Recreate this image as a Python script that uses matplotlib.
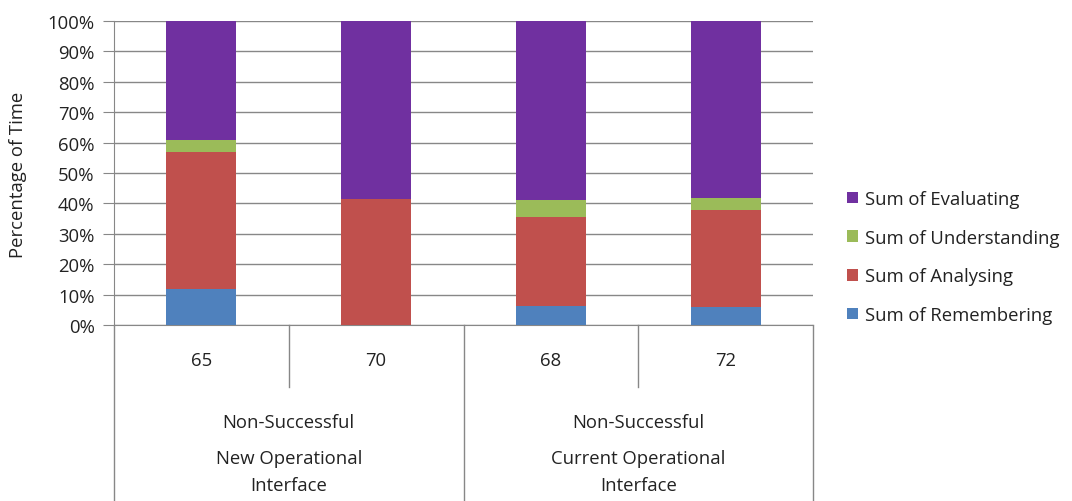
import matplotlib
matplotlib.use("Agg")
import matplotlib.pyplot as plt
import numpy as np
from matplotlib.ticker import PercentFormatter

# data (percent of time)
cases = ["65", "70", "68", "72"]
group_top = ["Non-Successful", "Non-Successful"]
group_bottom = ["New Operational", "Current Operational"]
group_last = ["Interface", "Interface"]
remembering = [12.0, 0.0, 6.1, 5.8]
analysing = [45.0, 41.3, 29.4, 32.1]
understanding = [4.0, 0.0, 5.5, 3.8]
evaluating = [39.0, 58.7, 59.0, 58.3]

series = [("Sum of Remembering", remembering, "#4F81BD"),
          ("Sum of Analysing", analysing, "#C0504D"),
          ("Sum of Understanding", understanding, "#9BBB59"),
          ("Sum of Evaluating", evaluating, "#7030A0")]

plt.rcParams['font.family'] = ['Open Sans', 'DejaVu Sans']
grid_col = "#878787"
txt_col = "#222222"
fs = 13.3

fig = plt.figure(figsize=(10.72, 5.02), dpi=100)
ax = fig.add_axes([114/1072, 1 - 326/502, (813-114)/1072, 304/502])

x = np.arange(len(cases))
bottom = np.zeros(len(cases))
handles = []
for name, vals, col in series:
    b = ax.bar(x, vals, 0.4, bottom=bottom, color=col, label=name, zorder=3)
    bottom += np.array(vals)
    handles.append(b)

ax.set_xlim(-0.5, 3.5)
ax.set_ylim(0, 100)
ax.set_yticks(np.arange(0, 101, 10))
ax.yaxis.set_major_formatter(PercentFormatter(decimals=0))
ax.yaxis.grid(True, color=grid_col, linewidth=1)
ax.set_axisbelow(True)
ax.tick_params(axis='y', labelsize=fs, colors=grid_col, labelcolor=txt_col, length=8, pad=6)
ax.set_xticks([])
for s in ["top", "right"]:
    ax.spines[s].set_visible(False)
ax.spines["left"].set_color(grid_col)
ax.spines["bottom"].set_color(grid_col)
fig.text(18/1072, 1 - 175/502, "Percentage of Time", rotation=90, ha="center", va="center",
         fontsize=fs, color=txt_col)

# multi-level category axis
tr = ax.get_xaxis_transform()
for xb in [-0.5, 1.5, 3.5]:
    ax.plot([xb, xb], [0, -0.6], transform=tr, color=grid_col, lw=1, clip_on=False)
for xb in [0.5, 2.5]:
    ax.plot([xb, xb], [0, -0.204], transform=tr, color=grid_col, lw=1, clip_on=False)
for xi, lab in zip(x, cases):
    ax.text(xi, -0.115, lab, transform=tr, ha="center", va="center", fontsize=fs, color=txt_col)
for gi in range(len(group_top)):
    gx = gi * 2 + 0.5
    ax.text(gx, -0.319, group_top[gi], transform=tr, ha="center", va="center", fontsize=fs, color=txt_col)
    ax.text(gx, -0.4375, group_bottom[gi], transform=tr, ha="center", va="center", fontsize=fs, color=txt_col)
    ax.text(gx, -0.526, group_last[gi], transform=tr, ha="center", va="center", fontsize=fs, color=txt_col)

leg = fig.legend(handles[::-1], [s[0] for s in series][::-1], loc="center left",
                 bbox_to_anchor=(830/1072, 1 - 258/502), frameon=False, fontsize=fs,
                 handlelength=0.6, handleheight=0.6, handletextpad=0.4, labelspacing=1.12)
for t in leg.get_texts():
    t.set_color(txt_col)

fig.savefig("out.png", dpi=100)
